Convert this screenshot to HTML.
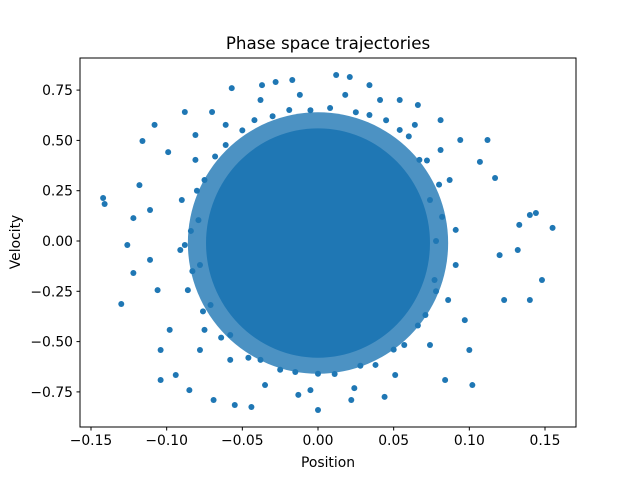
<!DOCTYPE html>
<html><head><meta charset="utf-8"><style>
body{margin:0;background:#fff;}
svg text{font-family:"DejaVu Sans","Liberation Sans",sans-serif;fill:#000;}
</style></head><body>
<svg id="chart" width="640" height="480" viewBox="0 0 640 480">
<rect x="0" y="0" width="640" height="480" fill="#fff"/>
<g id="marks"></g>
<rect x="80" y="58" width="496" height="369" fill="none" stroke="#000" stroke-width="1"/>
<g id="axes"></g>
<text x="328" y="49" font-size="16.7" text-anchor="middle">Phase space trajectories</text>
<text x="328" y="467" font-size="13.9" text-anchor="middle">Position</text>
<text x="20" y="242" font-size="13.9" text-anchor="middle" transform="rotate(-90 20 242)">Velocity</text>
</svg>
<script>
const xTicks=[-0.15,-0.10,-0.05,0.00,0.05,0.10,0.15];
const xTickLabels=["−0.15","−0.10","−0.05","0.00","0.05","0.10","0.15"];
const yTicks=[-0.75,-0.50,-0.25,0.00,0.25,0.50,0.75];
const yTickLabels=["−0.75","−0.50","−0.25","0.00","0.25","0.50","0.75"];
const coreCenter=[0.0,-0.01];
const coreSpread=[0.074,0.57];
const haloSpread=[0.086,0.65];
const pointX=[-0.142,-0.141,-0.130,-0.126,-0.122,-0.122,-0.118,-0.116,-0.111,-0.108,-0.106,-0.104,-0.104,-0.099,-0.094,-0.088,-0.085,-0.081,-0.070,-0.069,-0.057,-0.055,-0.044,-0.037,-0.028,-0.017,-0.013,0.000,0.012,0.021,0.022,0.034,0.044,0.054,0.066,0.081,0.084,0.094,0.102,0.107,0.112,0.117,0.120,0.123,0.133,0.132,0.140,0.144,0.155,0.148,0.140,0.097,0.100,-0.078,-0.098,-0.111,-0.088,
0.078,0.074,0.067,0.054,0.034,0.008,-0.019,-0.042,-0.061,-0.075,-0.079,-0.078,-0.071,-0.058,-0.038,-0.015,0.011,0.038,0.057,0.071,0.077,
0.091,0.087,0.081,0.064,0.041,0.018,-0.012,-0.038,-0.061,-0.081,-0.090,-0.091,-0.086,-0.075,-0.058,-0.035,-0.005,0.024,0.051,0.074,0.086,0.091,
0.082,0.080,0.072,0.060,0.045,0.025,-0.005,-0.030,-0.050,-0.068,-0.080,-0.084,-0.083,-0.076,-0.064,-0.046,-0.025,0.000,0.028,0.050,0.066,0.078];
const pointY=[0.214,0.184,-0.313,-0.020,-0.159,0.114,0.278,0.497,0.154,0.577,-0.244,-0.542,-0.691,0.442,-0.666,0.641,-0.741,0.527,0.641,-0.790,0.760,-0.815,-0.825,0.775,0.790,0.800,-0.765,-0.840,0.825,0.815,-0.790,0.775,-0.775,0.701,0.676,0.601,-0.691,0.502,-0.716,0.393,0.502,0.313,-0.070,-0.293,0.080,-0.045,0.129,0.139,0.065,-0.194,-0.293,-0.393,-0.542,-0.542,-0.442,-0.094,-0.020,
0.000,0.204,0.403,0.552,0.626,0.661,0.651,0.601,0.477,0.303,0.104,-0.119,-0.318,-0.467,-0.591,-0.651,-0.661,-0.616,-0.517,-0.368,-0.194,
0.055,0.303,0.452,0.577,0.701,0.726,0.726,0.701,0.577,0.403,0.204,-0.045,-0.244,-0.442,-0.591,-0.716,-0.741,-0.731,-0.666,-0.517,-0.293,-0.119,
0.120,0.280,0.400,0.520,0.600,0.640,0.650,0.620,0.550,0.420,0.250,0.050,-0.150,-0.350,-0.480,-0.580,-0.640,-0.660,-0.620,-0.540,-0.420,-0.250];
const NS="http://www.w3.org/2000/svg";
function sx(v){return 318+v*1513.3;}
function sy(v){return 241-v*201.2;}
const marks=document.getElementById('marks');
const axes=document.getElementById('axes');
const halo=document.createElementNS(NS,'ellipse');


halo.setAttribute('cx',sx(coreCenter[0]));halo.setAttribute('cy',sy(coreCenter[1]));
halo.setAttribute('rx',haloSpread[0]*1513.3);halo.setAttribute('ry',haloSpread[1]*201.2);
halo.setAttribute('fill','#1f77b4');halo.setAttribute('fill-opacity','0.8');
marks.appendChild(halo);
const core=document.createElementNS(NS,'ellipse');


core.setAttribute('cx',sx(coreCenter[0]));core.setAttribute('cy',sy(coreCenter[1]));
core.setAttribute('rx',coreSpread[0]*1513.3);core.setAttribute('ry',coreSpread[1]*201.2);
core.setAttribute('fill','#1f77b4');
marks.appendChild(core);
for(let i=0;i<pointX.length;i++){
 const c=document.createElementNS(NS,'circle');
 
 
 c.setAttribute('cx',sx(pointX[i]));c.setAttribute('cy',sy(pointY[i]));
 c.setAttribute('r',3);c.setAttribute('fill','#1f77b4');
 marks.appendChild(c);
}
xTicks.forEach((t,i)=>{
 const l=document.createElementNS(NS,'line');
 
 
 l.setAttribute('x1',sx(t));l.setAttribute('x2',sx(t));l.setAttribute('y1',427);l.setAttribute('y2',430.5);l.setAttribute('stroke','#000');
 axes.appendChild(l);
 const tx=document.createElementNS(NS,'text');
 
 
 tx.setAttribute('x',sx(t));tx.setAttribute('y',445);tx.setAttribute('font-size','13.9');tx.setAttribute('text-anchor','middle');
 tx.textContent=xTickLabels[i];axes.appendChild(tx);
});
yTicks.forEach((t,i)=>{
 const l=document.createElementNS(NS,'line');
 
 
 l.setAttribute('x1',76.5);l.setAttribute('x2',80);l.setAttribute('y1',sy(t));l.setAttribute('y2',sy(t));l.setAttribute('stroke','#000');
 axes.appendChild(l);
 const tx=document.createElementNS(NS,'text');
 
 
 tx.setAttribute('x',73);tx.setAttribute('y',sy(t)+5);tx.setAttribute('font-size','13.9');tx.setAttribute('text-anchor','end');
 tx.textContent=yTickLabels[i];axes.appendChild(tx);
});
</script>
</body></html>
